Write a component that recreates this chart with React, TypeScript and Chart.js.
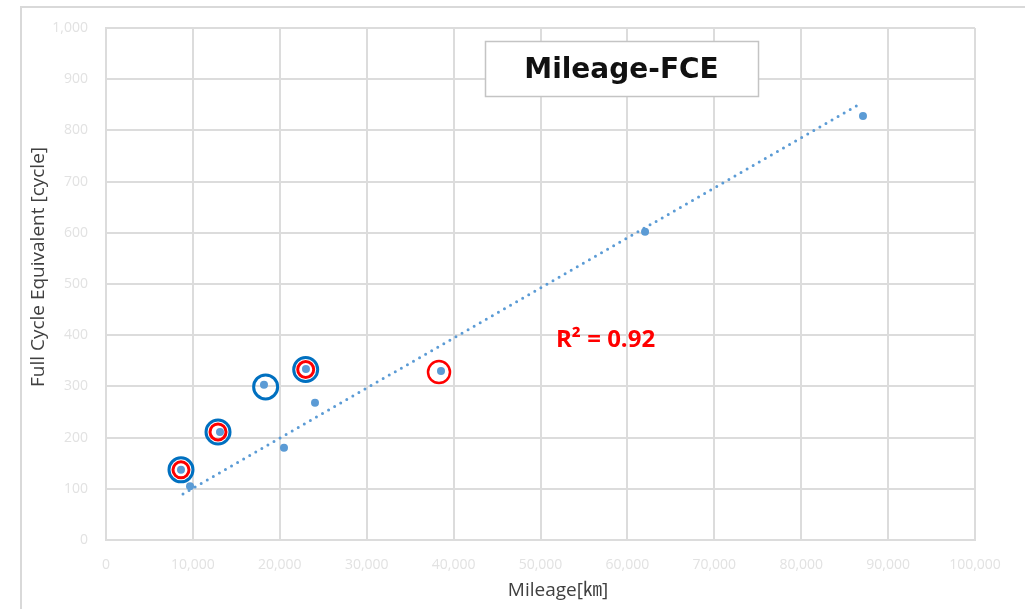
import { useEffect, useRef } from 'react';
import { Chart, registerables } from 'chart.js';

Chart.register(...registerables);

// Measured points: mileage [km] vs full-cycle-equivalent [cycle]
const mileageKm = [8630, 9670, 13120, 18180, 20480, 23010, 24050, 38550, 62030, 87110];
const fceCycles = [137, 105, 211, 303, 180, 334, 268, 330, 602, 828];

// Linear trendline end points (as drawn in the picture)
const trendKm = [8860, 87000];
const trendCycles = [90, 854];

// Highlight rings
const blueRingKm = [8630, 12890, 18370, 22980];
const blueRingCycles = [137, 211, 299, 333];
const redRingKm = [8630, 12890, 22980];
const redRingCycles = [137, 211, 333];
const redBigRingKm = [38320];
const redBigRingCycles = [328];

// Axis ticks
const xTicks = [0, 10000, 20000, 30000, 40000, 50000, 60000, 70000, 80000, 90000, 100000];
const yTicks = [0, 100, 200, 300, 400, 500, 600, 700, 800, 900, 1000];

const chartTitle = 'Mileage-FCE';
const r2Label = 'R² = 0.92';
const xTitle = 'Mileage[㎞]';
const yTitle = 'Full Cycle Equivalent [cycle]';

const toXY = (xs: number[], ys: number[]) => xs.map((x, i) => ({ x, y: ys[i] }));

const decorPlugin = {
  id: 'decor',
  beforeDraw(chart: any) {
    const ctx = chart.ctx;
    ctx.save();
    ctx.fillStyle = '#ffffff';
    ctx.fillRect(0, 0, chart.width, chart.height);
    ctx.strokeStyle = '#d9d9d9';
    ctx.lineWidth = 2;
    ctx.strokeRect(21, 7, chart.width + 20, chart.height + 20);
    ctx.restore();
  },
  afterDraw(chart: any) {
    const ctx = chart.ctx;
    ctx.save();
    // title box
    const bx = 485, by = 41, bw = 273, bh = 55;
    ctx.fillStyle = '#ffffff';
    ctx.fillRect(bx, by, bw, bh);
    ctx.strokeStyle = '#c4c4c4';
    ctx.lineWidth = 1.5;
    ctx.strokeRect(bx + 0.5, by + 0.5, bw, bh);
    ctx.fillStyle = '#111111';
    ctx.font = "bold 28px 'DejaVu Sans'";
    ctx.textAlign = 'center';
    ctx.textBaseline = 'middle';
    ctx.fillText(chartTitle, bx + bw / 2, by + bh / 2 + 2);

    // R² label
    ctx.fillStyle = '#ff0000';
    ctx.font = "bold 24px 'Open Sans'";
    ctx.textAlign = 'left';
    ctx.textBaseline = 'alphabetic';
    ctx.fillText(r2Label, 556, 347);

    // axis titles
    ctx.fillStyle = '#404040';
    ctx.font = "19px 'Open Sans', 'Noto Sans CJK JP'";
    ctx.textAlign = 'center';
    ctx.textBaseline = 'middle';
    ctx.fillText(xTitle, 558, 591);

    ctx.translate(39, 267);
    ctx.rotate(-Math.PI / 2);
    ctx.fillText(yTitle, 0, 0);
    ctx.restore();
  },
};

export default function App() {
  const canvasRef = useRef<HTMLCanvasElement | null>(null);

  useEffect(() => {
    if (!canvasRef.current) return;
    const gridColor = '#dcdcdc';
    const chart = new Chart(canvasRef.current, {
      type: 'scatter',
      data: {
        datasets: [
          {
            label: 'blue rings',
            data: toXY(blueRingKm, blueRingCycles),
            pointRadius: 12,
            pointHoverRadius: 12,
            borderWidth: 3,
            pointBorderWidth: 3,
            borderColor: '#0070c0',
            pointBorderColor: '#0070c0',
            backgroundColor: 'rgba(0,0,0,0)',
            pointBackgroundColor: 'rgba(0,0,0,0)',
          },
          {
            label: 'red rings',
            data: toXY(redRingKm, redRingCycles),
            pointRadius: 8,
            pointHoverRadius: 8,
            borderWidth: 3,
            pointBorderWidth: 3,
            borderColor: '#ff0000',
            pointBorderColor: '#ff0000',
            backgroundColor: 'rgba(0,0,0,0)',
            pointBackgroundColor: 'rgba(0,0,0,0)',
          },
          {
            label: 'red big ring',
            data: toXY(redBigRingKm, redBigRingCycles),
            pointRadius: 11,
            pointHoverRadius: 11,
            borderWidth: 2.5,
            pointBorderWidth: 2.5,
            borderColor: '#ff0000',
            pointBorderColor: '#ff0000',
            backgroundColor: 'rgba(0,0,0,0)',
            pointBackgroundColor: 'rgba(0,0,0,0)',
          },
          {
            label: 'trend',
            data: toXY(trendKm, trendCycles),
            showLine: true,
            pointRadius: 0,
            borderColor: '#5b9bd5',
            borderWidth: 3,
            borderDash: [0, 7],
            borderCapStyle: 'round',
            fill: false,
          },
          {
            label: 'FCE',
            data: toXY(mileageKm, fceCycles),
            pointRadius: 4,
            pointHoverRadius: 4,
            borderWidth: 0,
            backgroundColor: '#5b9bd5',
            borderColor: '#5b9bd5',
          },
        ],
      },
      options: {
        animation: false,
        responsive: false,
        events: [],
        layout: { padding: { left: 20, top: 28, right: 50, bottom: 0 } },
        plugins: {
          legend: { display: false },
          tooltip: { enabled: false },
          title: { display: false },
        },
        scales: {
          x: {
            type: 'linear',
            min: xTicks[0],
            max: xTicks[xTicks.length - 1],
            afterFit: (s: any) => { s.height = 69; },
            afterBuildTicks: (s: any) => { s.ticks = xTicks.map((v) => ({ value: v })); },
            ticks: {
              color: '#e2e2e2',
              font: { family: "'Open Sans'", size: 14 },
              padding: 17,
              maxRotation: 0,
              autoSkip: false,
              callback: (v: any) => Number(v).toLocaleString('en-US'),
            },
            grid: { color: gridColor, lineWidth: 2, drawTicks: false },
            border: { display: true, color: gridColor, width: 2 },
          },
          y: {
            type: 'linear',
            min: yTicks[0],
            max: yTicks[yTicks.length - 1],
            afterFit: (s: any) => { s.width = 86; },
            afterBuildTicks: (s: any) => { s.ticks = yTicks.map((v) => ({ value: v })); },
            ticks: {
              color: '#e2e2e2',
              font: { family: "'Open Sans'", size: 14 },
              padding: 18,
              autoSkip: false,
              callback: (v: any) => Number(v).toLocaleString('en-US'),
            },
            grid: { color: gridColor, lineWidth: 2, drawTicks: false },
            border: { display: true, color: gridColor, width: 2 },
          },
        },
      },
      plugins: [decorPlugin],
    } as any);
    return () => chart.destroy();
  }, []);

  return (
    <div style={{ position: 'fixed', left: 0, top: 0, width: 1025, height: 609, background: '#fff' }}>
      <canvas ref={canvasRef} width={1025} height={609} style={{ display: 'block' }} />
    </div>
  );
}
